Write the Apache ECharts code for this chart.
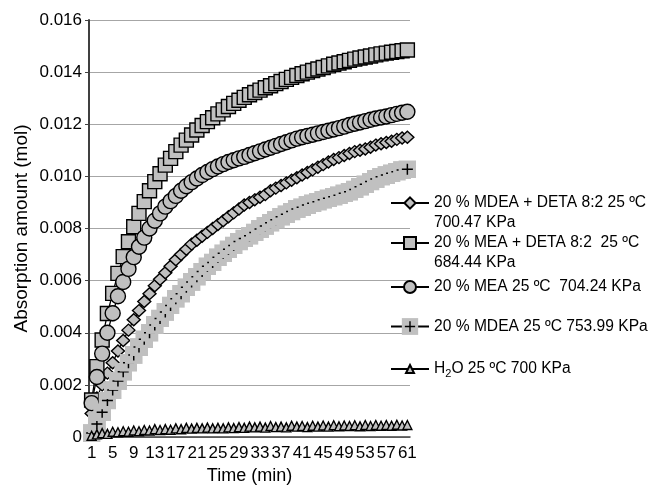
<!DOCTYPE html>
<html>
<head>
<meta charset="utf-8">
<style>
  html, body { margin: 0; padding: 0; background: #fff; }
  #chart { width: 651px; height: 493px; }
</style>
<script src="https://cdn.jsdelivr.net/npm/echarts@6/dist/echarts.min.js"></script>
</head>
<body>
<div id="chart"></div>
<script>
// ---- Data ----
const categories = [
  '1','2','3','4','5','6','7','8','9','10',
  '11','12','13','14','15','16','17','18','19','20',
  '21','22','23','24','25','26','27','28','29','30',
  '31','32','33','34','35','36','37','38','39','40',
  '41','42','43','44','45','46','47','48','49','50',
  '51','52','53','54','55','56','57','58','59','60',
  '61'
];

const yTickLabels = ['0','0.002','0.004','0.006','0.008','0.010','0.012','0.014','0.016'];

const nameMdeaDeta = '20 % MDEA + DETA 8:2 25 ºC\n700.47 KPa';
const nameMeaDeta  = '20 % MEA + DETA 8:2  25 ºC\n684.44 KPa';
const nameMea      = '20 % MEA 25 ºC  704.24 KPa';
const nameMdea     = '20 % MDEA 25 ºC 753.99 KPa';
const nameH2O      = 'H₂O 25 ºC 700 KPa';

const mdeaDeta = [
  0.00090,0.00150,0.00200,0.00245,0.00285,0.00330,0.00370,0.00410,0.00450,0.00485,
  0.00520,0.00550,0.00580,0.00605,0.00630,0.00655,0.00680,0.00700,0.00720,0.00740,
  0.00755,0.00770,0.00785,0.00800,0.00815,0.00830,0.00845,0.00860,0.00875,0.00890,
  0.00900,0.00910,0.00920,0.00930,0.00945,0.00955,0.00965,0.00975,0.00985,0.00995,
  0.01005,0.01015,0.01025,0.01035,0.01045,0.01055,0.01065,0.01072,0.01080,0.01088,
  0.01095,0.01100,0.01105,0.01112,0.01120,0.01125,0.01130,0.01135,0.01142,0.01147,
  0.01150
];

const meaDeta = [
  0.00142,0.00270,0.00372,0.00474,0.00551,0.00628,0.00692,0.00749,0.00807,0.00858,
  0.00903,0.00945,0.00980,0.01010,0.01043,0.01069,0.01095,0.01120,0.01139,0.01159,
  0.01178,0.01195,0.01210,0.01225,0.01240,0.01255,0.01268,0.01280,0.01292,0.01303,
  0.01313,0.01322,0.01331,0.01340,0.01348,0.01356,0.01364,0.01372,0.01380,0.01387,
  0.01394,0.01400,0.01406,0.01412,0.01418,0.01424,0.01430,0.01435,0.01440,0.01445,
  0.01450,0.01454,0.01458,0.01462,0.01466,0.01470,0.01473,0.01476,0.01479,0.01482,
  0.01485
];

const mea = [
  0.00130,0.00230,0.00320,0.00400,0.00475,0.00540,0.00595,0.00645,0.00690,0.00730,
  0.00765,0.00800,0.00830,0.00858,0.00884,0.00905,0.00925,0.00945,0.00962,0.00978,
  0.00992,0.01005,0.01017,0.01028,0.01038,0.01047,0.01055,0.01062,0.01069,0.01075,
  0.01082,0.01089,0.01096,0.01103,0.01110,0.01117,0.01124,0.01131,0.01138,0.01145,
  0.01150,0.01155,0.01160,0.01165,0.01170,0.01175,0.01180,0.01185,0.01191,0.01197,
  0.01202,0.01207,0.01212,0.01217,0.01222,0.01226,0.01230,0.01235,0.01240,0.01244,
  0.01248
];

const mdea = [
  0.00015,0.00050,0.00095,0.00140,0.00180,0.00215,0.00250,0.00285,0.00315,0.00345,
  0.00375,0.00400,0.00430,0.00455,0.00480,0.00505,0.00530,0.00550,0.00575,0.00595,
  0.00615,0.00635,0.00655,0.00670,0.00690,0.00705,0.00720,0.00735,0.00750,0.00762,
  0.00772,0.00785,0.00798,0.00810,0.00822,0.00834,0.00845,0.00855,0.00865,0.00875,
  0.00882,0.00890,0.00897,0.00903,0.00910,0.00916,0.00922,0.00928,0.00935,0.00941,
  0.00950,0.00960,0.00970,0.00980,0.00990,0.00999,0.01005,0.01012,0.01018,0.01024,
  0.01027
];

const h2o = [
  0.00005,0.00010,0.00015,0.00012,0.00020,0.00018,0.00022,0.00020,0.00025,0.00022,
  0.00027,0.00025,0.00030,0.00027,0.00030,0.00028,0.00033,0.00030,0.00035,0.00032,
  0.00035,0.00033,0.00036,0.00033,0.00035,0.00033,0.00037,0.00034,0.00038,0.00035,
  0.00040,0.00037,0.00040,0.00036,0.00042,0.00038,0.00040,0.00037,0.00043,0.00040,
  0.00042,0.00038,0.00043,0.00040,0.00044,0.00040,0.00045,0.00041,0.00044,0.00042,
  0.00045,0.00041,0.00046,0.00042,0.00046,0.00043,0.00046,0.00043,0.00047,0.00044,
  0.00046
];

// ---- Styles ----
const FONT = 'Liberation Sans, Arial, Helvetica, sans-serif';
const GRAY = '#c0c0c0';
const plusSvg = "<svg xmlns='http://www.w3.org/2000/svg' width='18' height='18' viewBox='0 0 18 18'>" +
  "<rect x='0' y='0' width='18' height='18' fill='#c0c0c0'/>" +
  "<path d='M9 3.5V14.5M3.5 9H14.5' stroke='#000' stroke-width='1.5' fill='none'/></svg>";
const plusSymbol = 'image://data:image/svg+xml;charset=utf-8,' + encodeURIComponent(plusSvg);

function markerSeries(name, data, symbol, size) {
  return {
    name: name,
    type: 'line',
    data: data,
    symbol: symbol,
    symbolSize: size,
    showAllSymbol: true,
    showSymbol: true,
    lineStyle: { color: '#000', width: 1.3 },
    itemStyle: { color: GRAY, borderColor: '#000', borderWidth: 1.4 },
    emphasis: { disabled: true },
    animation: false
  };
}

function oneLegend(name, top, itemHeight, extra) {
  const base = {
    data: [name],
    left: 390,
    top: top,
    orient: 'vertical',
    padding: 0,
    itemWidth: 38,
    itemHeight: itemHeight,
    selectedMode: false,
    textStyle: { fontFamily: FONT, fontSize: 15.6, color: '#000', lineHeight: 20 }
  };
  return Object.assign(base, extra || {});
}

// two-line entries: an empty leading line keeps the icon level with the first text line
function twoLineFormatter(n) { return '\n' + n; }

const chart = echarts.init(document.getElementById('chart'), null, { renderer: 'canvas' });

const option = {
  backgroundColor: '#fff',
  animation: false,
  grid: { left: 89, right: 241, top: 20, bottom: 56, containLabel: false, outerBoundsMode: 'none' },
  legend: [
    oneLegend(nameMdeaDeta, 173, 14, { formatter: twoLineFormatter }),
    oneLegend(nameMeaDeta, 213, 15, { formatter: twoLineFormatter }),
    oneLegend(nameMea, 277, 15),
    oneLegend(nameMdea, 316.5, 21),
    oneLegend(nameH2O, 359, 10, {
      formatter: function (n) { return n.replace('₂', '{sub|2}'); },
      textStyle: {
        fontFamily: FONT, fontSize: 15.6, color: '#000', lineHeight: 20,
        rich: { sub: { fontFamily: FONT, fontSize: 11, lineHeight: 11, verticalAlign: 'bottom', color: '#000' } }
      }
    })
  ],
  xAxis: {
    type: 'category',
    data: categories,
    boundaryGap: true,
    name: 'Time (min)',
    nameLocation: 'middle',
    nameGap: 30,
    nameTextStyle: { fontFamily: FONT, fontSize: 18, color: '#000' },
    axisLine: { show: true, lineStyle: { color: '#404040', width: 1.5 } },
    axisTick: { show: false },
    axisLabel: { interval: 3, margin: 8, fontFamily: FONT, fontSize: 17, color: '#000' },
    splitLine: { show: false }
  },
  yAxis: {
    type: 'value',
    min: 0,
    max: 0.016,
    interval: 0.002,
    name: 'Absorption amount (mol)',
    nameLocation: 'middle',
    nameGap: 58,
    nameTextStyle: { fontFamily: FONT, fontSize: 19, color: '#000' },
    axisLine: { show: true, lineStyle: { color: '#404040', width: 2 } },
    axisTick: { show: true, inside: false, length: 4, lineStyle: { color: '#404040', width: 1 } },
    axisLabel: {
      margin: 7, fontFamily: FONT, fontSize: 17, color: '#000',
      formatter: function (v) { return yTickLabels[Math.round(v / 0.002)]; }
    },
    splitLine: { show: true, lineStyle: { color: '#a6a6a6', width: 1 } }
  },
  series: [
    markerSeries(nameMdeaDeta, mdeaDeta, 'diamond', [13, 12]),
    markerSeries(nameMeaDeta, meaDeta, 'rect', 14),
    markerSeries(nameMea, mea, 'circle', 15),
    markerSeries(nameMdea, mdea, plusSymbol, 18),
    markerSeries(nameH2O, h2o, 'triangle', [9, 9])
  ]
};

chart.setOption(option);
</script>
</body>
</html>
